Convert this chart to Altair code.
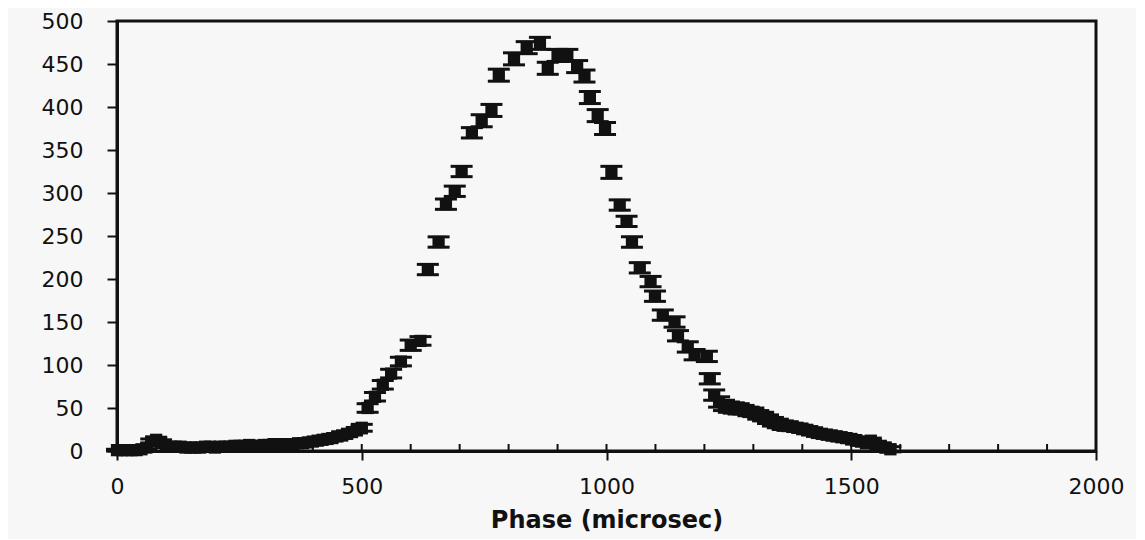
import altair as alt
import pandas as pd

# ---- data ----
low_phase = [0, 10, 20, 30, 40, 50, 60, 70, 80, 90, 100, 110, 120, 130, 140, 150, 160, 170, 180, 190,
             200, 210, 220, 230, 240, 250, 260, 270, 280, 290, 300, 310, 320, 330, 340, 350, 360, 370,
             380, 390, 400, 410, 420, 430, 440, 450, 460, 470, 480, 490, 500]
low_count = [1, 1, 1, 1, 1, 2, 4, 11, 13, 10, 6, 5, 5, 5, 4, 4, 4, 4, 5, 5,
             4, 5, 5, 5, 6, 6, 6, 7, 6, 6, 7, 7, 8, 7, 8, 8, 8, 9,
             9, 10, 11, 12, 13, 14, 15, 17, 18, 20, 22, 24, 27]
low_err = [1, 1, 1, 1, 1, 1, 2, 3, 3, 3, 2, 2, 2, 2, 2, 2, 2, 2, 2, 2,
           2, 2, 2, 2, 2, 2, 2, 2, 2, 2, 2, 2, 2, 2, 2, 2, 2, 2,
           2, 3, 3, 3, 3, 3, 3, 3, 3, 3, 3, 3, 4]

mid_phase = [512, 527, 543, 560, 580, 600, 620, 635, 657, 672, 690, 704, 725, 745, 765, 780, 811, 837,
             864, 880, 900, 920, 940, 955, 966, 982, 997, 1010, 1027, 1041, 1052, 1068, 1090, 1099,
             1115, 1139, 1146, 1166, 1180, 1205, 1211, 1220]
mid_count = [50, 63, 77, 90, 104, 123, 128, 211, 243, 287, 302, 325, 370, 384, 396, 437, 456, 469,
             474, 445, 460, 460, 447, 436, 411, 390, 375, 324, 286, 267, 243, 213, 197, 180,
             158, 150, 134, 121, 112, 110, 84, 65]
mid_err = [5, 5, 5, 5, 5, 6, 5, 6, 6, 6, 6, 6, 6, 7, 7, 7, 7, 7,
           7, 7, 7, 7, 7, 7, 7, 7, 7, 7, 6, 6, 6, 6, 6, 6,
           6, 6, 6, 6, 6, 6, 6, 6]

tail_phase = [1230, 1240, 1250, 1260, 1270, 1280, 1290, 1300, 1310, 1320, 1330, 1340, 1350, 1360,
              1370, 1380, 1390, 1400, 1410, 1420, 1430, 1440, 1450, 1460, 1470, 1480, 1490, 1500,
              1510, 1520, 1530, 1540, 1550, 1560, 1570, 1580]
tail_count = [57, 53, 51, 50, 49, 48, 46, 45, 42, 40, 37, 34, 32, 30,
              29, 28, 27, 26, 24, 23, 21, 20, 19, 18, 17, 16, 15, 14,
              12, 11, 9, 12, 8, 6, 4, 2]
tail_err = [6, 6, 6, 6, 6, 5, 5, 5, 5, 5, 5, 5, 5, 5,
            5, 4, 4, 4, 4, 4, 4, 4, 4, 4, 4, 4, 4, 4,
            4, 4, 3, 3, 3, 3, 3, 3]

x_ticks = [0, 500, 1000, 1500, 2000]
x_minor = [100, 200, 300, 400, 500, 600, 700, 800, 900, 1000, 1100, 1200, 1300, 1400, 1500,
           1600, 1700, 1800, 1900]
y_ticks = [0, 50, 100, 150, 200, 250, 300, 350, 400, 450, 500]

INK = "#111111"
FONT = "DejaVu Sans"

df = pd.DataFrame({
    "phase": low_phase + mid_phase + tail_phase,
    "count": low_count + mid_count + tail_count,
    "err": low_err + mid_err + tail_err,
})
df["lo"] = df["count"] - df["err"]
df["hi"] = df["count"] + df["err"]

W, H = 979, 430

xs = alt.Scale(domain=[0, 2000], nice=False)
ys = alt.Scale(domain=[0, 500], nice=False)

x_enc = alt.X("phase:Q", scale=xs,
              axis=alt.Axis(values=x_ticks, format="d", title="Phase (microsec)", tickSize=9,
                            labelPadding=16, titlePadding=11, grid=False, labelFlush=False,
                            titleFont=FONT, titleFontSize=24, titleFontWeight="bold",
                            labelFont=FONT, labelFontSize=22))
y_enc = alt.Y("count:Q", scale=ys,
              axis=alt.Axis(values=y_ticks, format="d", title=None, tickSize=10, labelPadding=24,
                            grid=False, labelFlush=False, labelFont=FONT, labelFontSize=22))

base = alt.Chart(df)

bars = base.mark_rule(color=INK, strokeWidth=3).encode(
    x=x_enc, y=alt.Y("lo:Q", scale=ys), y2="hi:Q")
cap_hi = base.mark_tick(color=INK, orient="horizontal", size=22, thickness=3, opacity=1).encode(
    x=alt.X("phase:Q", scale=xs), y=alt.Y("hi:Q", scale=ys))
cap_lo = base.mark_tick(color=INK, orient="horizontal", size=22, thickness=3, opacity=1).encode(
    x=alt.X("phase:Q", scale=xs), y=alt.Y("lo:Q", scale=ys))
pts = base.mark_square(color=INK, size=150, opacity=1).encode(x=alt.X("phase:Q", scale=xs), y=y_enc)

minor = alt.Chart(pd.DataFrame({"t": x_minor})).mark_rule(color=INK, strokeWidth=2).encode(
    x=alt.X("t:Q", scale=xs), y=alt.value(H), y2=alt.value(H - 7))

chart = alt.layer(bars, cap_hi, cap_lo, pts, minor).properties(
    width=W, height=H,
    autosize=alt.AutoSizeParams(type="none"),
    padding={"left": 109, "top": 13, "right": 40, "bottom": 88},
    background="#f7f7f7",
).configure_view(
    stroke=INK, strokeWidth=3
).configure_axis(
    domainColor=INK, domainWidth=3, tickColor=INK, tickWidth=2,
    labelColor=INK, titleColor=INK
)

chart.save("out.html", embed_options={"renderer": "svg", "actions": False})
